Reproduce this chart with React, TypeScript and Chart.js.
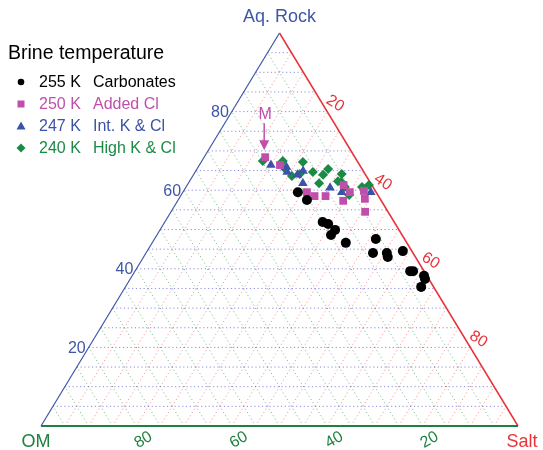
import React, { useEffect, useRef } from "react";
import { Chart, registerables } from "chart.js";

Chart.register(...registerables);

// Compositions in percent. OM = 100 - Salt - Aq. Rock
const carbonatesSalt = [24.1, 27.0, 33.1, 34.5, 36.7, 36.5, 40.6, 46.4, 47.6, 50.5, 51.2, 53.6, 57.7, 58.3, 61.2, 61.8, 62.0];
const carbonatesAq = [59.5, 57.5, 51.9, 51.4, 49.9, 48.6, 46.6, 47.6, 44.0, 44.0, 43.0, 44.5, 39.4, 39.4, 38.2, 37.4, 35.4];

const addedClSalt = [12.8, 16.9, 26.0, 28.1, 30.4, 32.8, 35.0, 34.7, 37.8, 39.0, 40.7];
const addedClAq = [68.4, 66.4, 59.5, 58.5, 58.5, 61.3, 59.5, 57.3, 59.8, 57.8, 54.5];

const intKClSalt = [15.0, 18.5, 19.3, 21.8, 22.5, 24.0, 30.3, 33.3, 39.4];
const intKClAq = [66.4, 65.9, 64.6, 63.9, 64.9, 61.8, 60.6, 59.5, 59.5];

const highKClSalt = [12.8, 17.0, 18.5, 20.8, 22.2, 21.3, 24.7, 27.2, 27.5, 27.4, 31.0, 31.1, 31.9, 33.3, 35.2, 36.9, 38.1];
const highKClAq = [67.4, 67.4, 65.4, 63.6, 64.1, 67.2, 64.6, 63.9, 65.4, 61.8, 64.1, 62.3, 62.1, 60.8, 58.8, 60.8, 61.3];

const seriesTemps = ["255 K", "250 K", "247 K", "240 K"];
const seriesNames = ["Carbonates", "Added Cl", "Int. K & Cl", "High K & Cl"];
const legendTitle = "Brine temperature";
const tickValues = [20, 40, 60, 80];
const gridStep = 5;
const axisNames = { top: "Aq. Rock", left: "OM", right: "Salt" };
const markerLabel = "M";
const markerSalt = 12.8;
const markerAq = 68.4;

const COLORS = ["#000000", "#c04fab", "#3b52a8", "#1b8a47"];
const BLUE = "#3f56a8";
const RED = "#e8333a";
const GREEN = "#1f8040";
const FONT = "'Liberation Sans', Arial, Helvetica, sans-serif";

function toData(salt: number, aq: number) {
  return { x: salt / 100 + aq / 200, y: aq / 100 };
}

function build(salts: number[], aqs: number[]) {
  return salts.map((s, i) => toData(s, aqs[i]));
}

const ternaryPlugin = {
  id: "ternary",
  beforeDatasetsDraw(chart: any) {
    const { ctx } = chart;
    const xs = chart.scales.x;
    const ys = chart.scales.y;
    const P = (salt: number, aq: number) => {
      const d = toData(salt, aq);
      return [xs.getPixelForValue(d.x), ys.getPixelForValue(d.y)];
    };
    const line = (a: number[], b: number[], color: string, w: number) => {
      ctx.strokeStyle = color;
      ctx.lineWidth = w;
      ctx.beginPath();
      ctx.moveTo(a[0], a[1]);
      ctx.lineTo(b[0], b[1]);
      ctx.stroke();
    };
    ctx.save();
    ctx.setLineDash([1.2, 2.6]);
    for (let k = gridStep; k < 100; k += gridStep) {
      line(P(0, k), P(100 - k, k), "rgba(100,100,215,0.75)", 1);
      line(P(k, 0), P(k, 100 - k), "rgba(240,90,90,0.6)", 1);
      line(P(100 - k, 0), P(0, 100 - k), "rgba(60,150,80,0.6)", 1);
    }
    ctx.setLineDash([]);
    line(P(0, 0), P(0, 100), BLUE, 1.2);
    line(P(100, 0), P(0, 100), RED, 1.5);
    line(P(0, 0), P(100, 0), GREEN, 2);

    ctx.font = `16px ${FONT}`;
    // Aq. Rock ticks (left edge)
    ctx.fillStyle = BLUE;
    ctx.textAlign = "right";
    ctx.textBaseline = "middle";
    for (const v of tickValues) {
      const p = P(0, v);
      ctx.fillText(String(v), p[0] - 3, p[1] + 1);
    }
    // OM ticks (bottom edge)
    ctx.fillStyle = GREEN;
    ctx.textAlign = "center";
    for (const v of tickValues) {
      const p = P(100 - v, 0);
      ctx.save();
      ctx.translate(p[0] + 7, p[1] + 14);
      ctx.rotate(-Math.PI / 6);
      ctx.fillText(String(v), 0, 0);
      ctx.restore();
    }
    // Salt ticks (right edge)
    ctx.fillStyle = RED;
    for (const v of tickValues) {
      const p = P(v, 100 - v);
      ctx.save();
      ctx.translate(p[0] + 8, p[1] - 8);
      ctx.rotate(Math.PI / 5.5);
      ctx.fillText(String(v), 0, 0);
      ctx.restore();
    }
    // Axis names
    ctx.font = `18px ${FONT}`;
    const top = P(0, 100);
    ctx.fillStyle = BLUE;
    ctx.textAlign = "center";
    ctx.textBaseline = "alphabetic";
    ctx.fillText(axisNames.top, top[0], top[1] - 11);
    const l = P(0, 0);
    ctx.fillStyle = GREEN;
    ctx.fillText(axisNames.left, l[0] - 5, l[1] + 21);
    const r = P(100, 0);
    ctx.fillStyle = RED;
    ctx.fillText(axisNames.right, r[0] + 4, r[1] + 21);
    ctx.restore();
  },
  afterDatasetsDraw(chart: any) {
    const { ctx } = chart;
    const xs = chart.scales.x;
    const ys = chart.scales.y;
    const d = toData(markerSalt, markerAq);
    const px = xs.getPixelForValue(d.x) - 1;
    const py = ys.getPixelForValue(d.y);
    ctx.save();
    ctx.strokeStyle = COLORS[1];
    ctx.fillStyle = COLORS[1];
    ctx.lineWidth = 1.5;
    ctx.beginPath();
    ctx.moveTo(px, py - 34);
    ctx.lineTo(px, py - 14);
    ctx.stroke();
    ctx.beginPath();
    ctx.moveTo(px - 5, py - 17);
    ctx.lineTo(px + 5, py - 17);
    ctx.lineTo(px, py - 7);
    ctx.closePath();
    ctx.fill();
    ctx.font = `16px ${FONT}`;
    ctx.textAlign = "center";
    ctx.textBaseline = "alphabetic";
    ctx.fillText(markerLabel, px + 1, py - 38);
    ctx.restore();
  },
  afterDraw(chart: any) {
    const { ctx } = chart;
    ctx.save();
    ctx.fillStyle = "#000";
    ctx.font = `19.5px ${FONT}`;
    ctx.textAlign = "left";
    ctx.textBaseline = "alphabetic";
    ctx.fillText(legendTitle, 8, 59);
    ctx.font = `16px ${FONT}`;
    ctx.textBaseline = "middle";
    const rowY = [82, 104, 126, 148];
    for (let i = 0; i < 4; i++) {
      const y = rowY[i];
      const mx = 21;
      ctx.fillStyle = COLORS[i];
      ctx.beginPath();
      if (i === 0) {
        ctx.arc(mx, y, 3.3, 0, Math.PI * 2);
      } else if (i === 1) {
        ctx.rect(mx - 3.5, y - 3.5, 7, 7);
      } else if (i === 2) {
        ctx.moveTo(mx - 4.5, y + 3.5);
        ctx.lineTo(mx + 4.5, y + 3.5);
        ctx.lineTo(mx, y - 4.5);
        ctx.closePath();
      } else {
        ctx.moveTo(mx - 4.5, y);
        ctx.lineTo(mx, y - 4.5);
        ctx.lineTo(mx + 4.5, y);
        ctx.lineTo(mx, y + 4.5);
        ctx.closePath();
      }
      ctx.fill();
      ctx.fillText(seriesTemps[i], 39, y + 1);
      ctx.fillText(seriesNames[i], 93, y + 1);
    }
    ctx.restore();
  },
};

export default function App() {
  const ref = useRef<HTMLCanvasElement | null>(null);
  useEffect(() => {
    if (!ref.current) return;
    const chart = new Chart(ref.current, {
      type: "scatter",
      data: {
        datasets: [
          {
            label: seriesNames[0],
            data: build(carbonatesSalt, carbonatesAq),
            pointStyle: "circle",
            pointRadius: 5,
            backgroundColor: COLORS[0],
            borderColor: COLORS[0],
            borderWidth: 0,
          },
          {
            label: seriesNames[1],
            data: build(addedClSalt, addedClAq),
            pointStyle: "rect",
            pointRadius: 5.5,
            backgroundColor: COLORS[1],
            borderColor: COLORS[1],
            borderWidth: 0,
          },
          {
            label: seriesNames[2],
            data: build(intKClSalt, intKClAq),
            pointStyle: "triangle",
            pointRadius: 5.5,
            backgroundColor: COLORS[2],
            borderColor: COLORS[2],
            borderWidth: 0,
          },
          {
            label: seriesNames[3],
            data: build(highKClSalt, highKClAq),
            pointStyle: "rectRot",
            pointRadius: 5,
            backgroundColor: COLORS[3],
            borderColor: COLORS[3],
            borderWidth: 0,
          },
        ],
      },
      options: {
        responsive: false,
        animation: false,
        devicePixelRatio: 1,
        events: [],
        layout: { padding: { left: 41, right: 25, top: 33, bottom: 24 } },
        scales: {
          x: { type: "linear", min: 0, max: 1, display: false },
          y: { type: "linear", min: 0, max: 1, display: false },
        },
        plugins: { legend: { display: false }, tooltip: { enabled: false } },
      },
      plugins: [ternaryPlugin],
    });
    return () => chart.destroy();
  }, []);
  return (
    <div style={{ position: "fixed", left: 0, top: 0, width: 543, height: 450, background: "#fff" }}>
      <canvas ref={ref} width={543} height={450} />
    </div>
  );
}
